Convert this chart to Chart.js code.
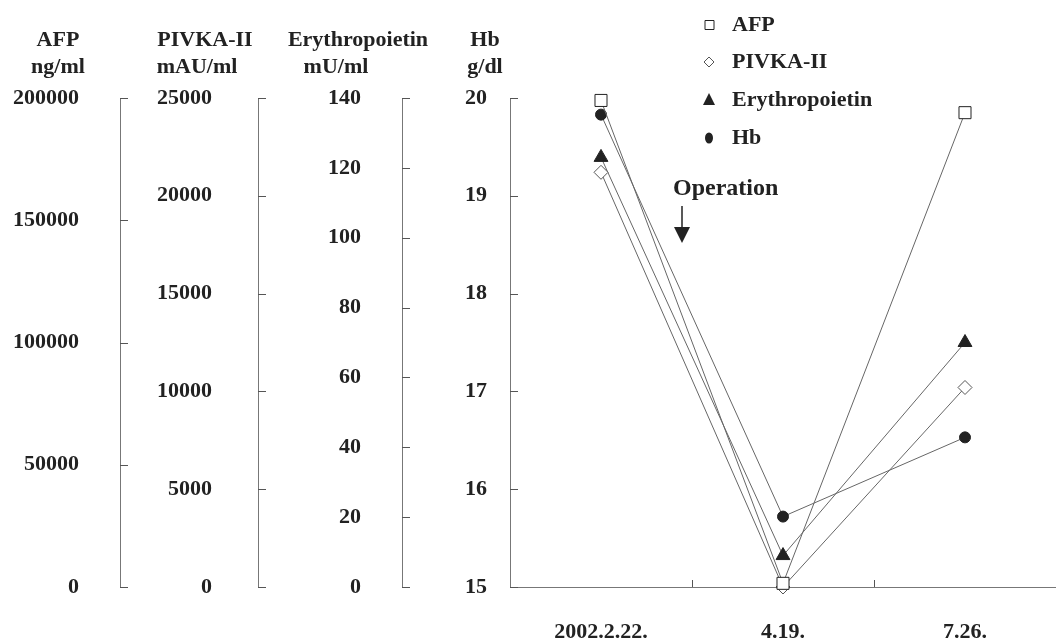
<!DOCTYPE html>
<html lang="en">
<head>
  <meta charset="UTF-8">
  <title>AFP / PIVKA-II / Erythropoietin / Hb</title>
  <script src="https://cdn.jsdelivr.net/npm/chart.js"></script>
  <style>
    body { margin: 0; background: #fff; }
    canvas { display: block; }
  </style>
</head>
<body>
  <canvas id="chart" width="1056" height="641"></canvas>

  <script>
    // data
    const dates = ["2002.2.22.", "4.19.", "7.26."];
    const afp = [199000, 1500, 194000];          // ng/ml
    const pivka = [21200, 0, 10200];             // mAU/ml
    const epo = [123, 9, 70];                    // mU/ml
    const hb = [19.83, 15.72, 16.53];            // g/dl

    const seriesNames = ["AFP", "PIVKA-II", "Erythropoietin", "Hb"];
    const axisUnits = ["ng/ml", "mAU/ml", "mU/ml", "g/dl"];

    const ink = "#222";
    const lineGray = "#666";
    const serif = "'Liberation Serif', 'Times New Roman', serif";
    const tickFont = { family: serif, size: 22, weight: "bold" };

    function yAxis(min, max, step, weight, width, pad) {
      return {
        type: "linear",
        position: "left",
        weight: weight,
        min: min,
        max: max,
        grid: { display: false },
        border: { display: true, color: "#777", width: 1 },
        ticks: { stepSize: step, font: tickFont, color: ink, padding: pad, callback: v => String(v) },
        afterFit: s => { s.width = width; }
      };
    }

    // tick marks pointing inward, titles, legend and the operation note
    const extras = {
      id: "extras",
      afterDraw(chart) {
        const ctx = chart.ctx;
        ctx.save();
        ctx.strokeStyle = "#555";
        ctx.lineWidth = 1;
        ["yAfp", "yPivka", "yEpo", "yHb"].forEach(id => {
          const s = chart.scales[id];
          s.ticks.forEach(t => {
            const y = Math.round(s.getPixelForValue(t.value)) + 0.5;
            ctx.beginPath();
            ctx.moveTo(s.right, y);
            ctx.lineTo(s.right + 8, y);
            ctx.stroke();
          });
        });
        const xs = chart.scales.x;
        for (let i = 0; i < dates.length - 1; i++) {
          const x = Math.round((xs.getPixelForValue(i) + xs.getPixelForValue(i + 1)) / 2) + 0.5;
          ctx.beginPath();
          ctx.moveTo(x, xs.top);
          ctx.lineTo(x, xs.top - 7);
          ctx.stroke();
        }

        // axis titles
        ctx.fillStyle = ink;
        ctx.font = "bold 22px " + serif;
        ctx.textAlign = "center";
        ctx.textBaseline = "middle";
        const titleX = [58, 205, 358, 485];
        const unitX = [58, 197, 336, 485];
        seriesNames.forEach((n, i) => ctx.fillText(n, titleX[i], 40));
        axisUnits.forEach((u, i) => ctx.fillText(u, unitX[i], 67));

        // legend
        const lx = 709, rows = [25, 62, 100, 138];
        ctx.textAlign = "left";
        seriesNames.forEach((n, i) => {
          const y = rows[i];
          ctx.beginPath();
          if (i === 0) {
            ctx.rect(705, y - 4.5, 9, 9);
            ctx.fillStyle = "#fff"; ctx.fill(); ctx.strokeStyle = ink; ctx.stroke();
          } else if (i === 1) {
            ctx.moveTo(lx, y - 5); ctx.lineTo(lx + 5, y); ctx.lineTo(lx, y + 5); ctx.lineTo(lx - 5, y); ctx.closePath();
            ctx.fillStyle = "#fff"; ctx.fill(); ctx.strokeStyle = "#555"; ctx.stroke();
          } else if (i === 2) {
            ctx.moveTo(lx, y - 7); ctx.lineTo(lx + 6, y + 5); ctx.lineTo(lx - 6, y + 5); ctx.closePath();
            ctx.fillStyle = ink; ctx.fill();
          } else {
            ctx.ellipse(lx, y, 4, 5.5, 0, 0, Math.PI * 2);
            ctx.fillStyle = ink; ctx.fill();
          }
          ctx.fillStyle = ink;
          ctx.fillText(n, 732, y);
        });

        // operation note
        ctx.font = "bold 24px " + serif;
        ctx.fillText("Operation", 673, 189);
        ctx.strokeStyle = ink;
        ctx.lineWidth = 1.5;
        ctx.beginPath();
        ctx.moveTo(682, 206);
        ctx.lineTo(682, 228);
        ctx.stroke();
        ctx.beginPath();
        ctx.moveTo(674, 227); ctx.lineTo(690, 227); ctx.lineTo(682, 243); ctx.closePath();
        ctx.fillStyle = ink;
        ctx.fill();
        ctx.restore();
      }
    };

    const lineBase = { borderColor: lineGray, borderWidth: 1, tension: 0, clip: false, pointBorderWidth: 1 };

    new Chart(document.getElementById("chart"), {
      type: "line",
      data: {
        labels: dates,
        datasets: [
          Object.assign({}, lineBase, { label: "AFP", data: afp, yAxisID: "yAfp",
            pointStyle: "rect", pointRadius: 8.5, pointBackgroundColor: "#fff", pointBorderColor: ink }),
          Object.assign({}, lineBase, { label: "PIVKA-II", data: pivka, yAxisID: "yPivka",
            pointStyle: "rectRot", pointRadius: 7, pointBackgroundColor: "#fff", pointBorderColor: "#555" }),
          Object.assign({}, lineBase, { label: "Erythropoietin", data: epo, yAxisID: "yEpo",
            pointStyle: "triangle", pointRadius: 8, pointBackgroundColor: ink, pointBorderColor: ink }),
          Object.assign({}, lineBase, { label: "Hb", data: hb, yAxisID: "yHb",
            pointStyle: "circle", pointRadius: 5.5, pointBackgroundColor: ink, pointBorderColor: ink })
        ]
      },
      options: {
        responsive: false,
        animation: false,
        layout: { autoPadding: false, padding: { top: 98, right: 0, bottom: 0, left: 0 } },
        plugins: { legend: { display: false }, tooltip: { enabled: false } },
        scales: {
          x: {
            type: "category",
            offset: true,
            grid: { display: false },
            border: { display: true, color: "#777", width: 1 },
            ticks: { font: tickFont, color: ink, padding: 24, maxRotation: 0, autoSkip: false },
            afterFit: s => { s.height = 54; }
          },
          yAfp: yAxis(0, 200000, 50000, 4, 120, 33),
          yPivka: yAxis(0, 25000, 5000, 3, 138, 38),
          yEpo: yAxis(0, 140, 20, 2, 144, 33),
          yHb: yAxis(15, 20, 1, 1, 108, 15)
        }
      },
      plugins: [extras]
    });
  </script>
</body>
</html>
